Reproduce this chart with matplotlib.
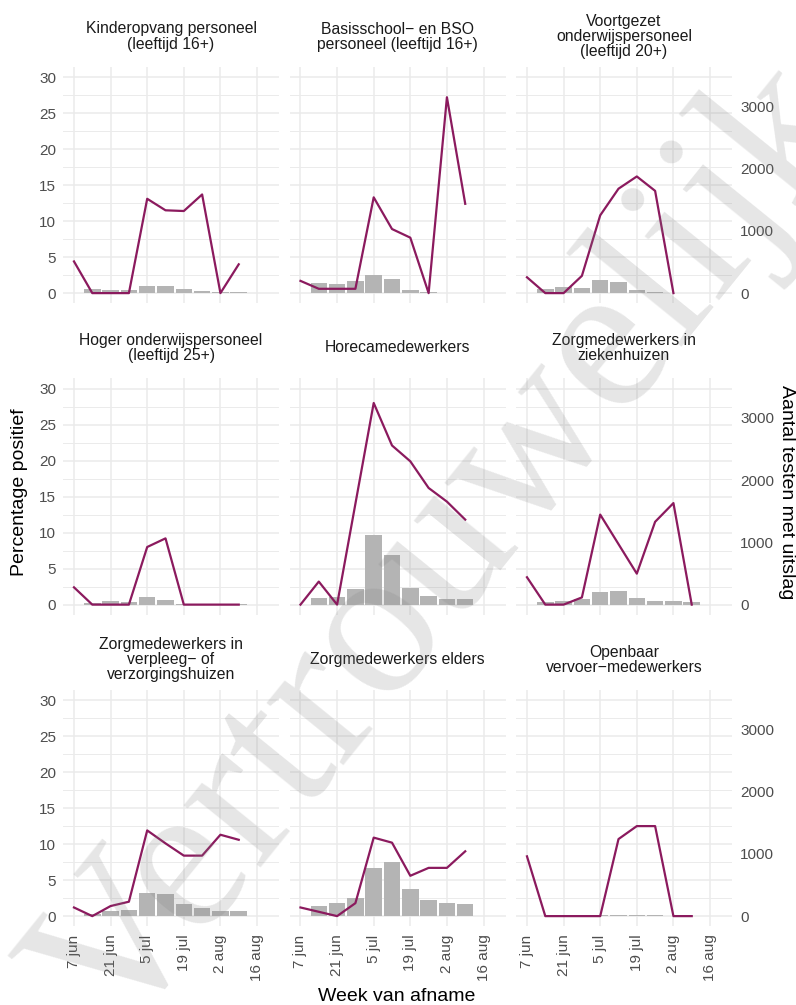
import numpy as np
import pandas as pd
import matplotlib
matplotlib.use('Agg')
import matplotlib.pyplot as plt
import matplotlib.dates as mdates

plt.rcParams['font.family'] = ['Liberation Sans', 'DejaVu Sans']

W, H = 796, 1005
LINE = '#8B1A5E'
BAR = '#B4B4B4'
GRID = '#EBEBEB'
TICK = '#4D4D4D'
K = 115.6  # tests per percentage point (secondary axis)

weeks = pd.to_datetime(['2020-06-07', '2020-06-14', '2020-06-21', '2020-06-28', '2020-07-05',
                        '2020-07-12', '2020-07-19', '2020-07-26', '2020-08-02', '2020-08-09'])

titles = [
    'Kinderopvang personeel\n(leeftijd 16+)',
    'Basisschool\u2212 en BSO\npersoneel (leeftijd 16+)',
    'Voortgezet\nonderwijspersoneel\n(leeftijd 20+)',
    'Hoger onderwijspersoneel\n(leeftijd 25+)',
    'Horecamedewerkers',
    'Zorgmedewerkers in\nziekenhuizen',
    'Zorgmedewerkers in\nverpleeg\u2212 of\nverzorgingshuizen',
    'Zorgmedewerkers elders',
    'Openbaar\nvervoer\u2212medewerkers',
]

# percentage positive per week
pct_kinder = [4.4, 0, 0, 0, 13.1, 11.5, 11.4, 13.7, 0, 4.0]
pct_basis = [1.7, 0.6, 0.6, 0.6, 13.3, 8.9, 7.7, 0, 27.2, 12.4]
pct_voortgezet = [2.2, 0, 0, 2.4, 10.8, 14.5, 16.2, 14.2, 0, np.nan]
pct_hoger = [2.4, 0, 0, 0, 8.0, 9.2, 0, 0, 0, 0]
pct_horeca = [0, 3.2, 0, 14.0, 28.0, 22.1, 19.9, 16.2, 14.3, 11.8]
pct_zkh = [3.8, 0, 0, 1.0, 12.5, 8.4, 4.3, 11.5, 14.1, 0]
pct_vvt = [1.2, 0, 1.4, 2.0, 11.9, 10.1, 8.4, 8.4, 11.3, 10.6]
pct_elders = [1.2, 0.6, 0, 1.8, 10.9, 10.2, 5.6, 6.7, 6.7, 9.0]
pct_ov = [8.3, 0, 0, 0, 0, 10.7, 12.5, 12.5, 0, 0]

# number of tests with result per week
n_kinder = [0, 59, 43, 43, 113, 113, 59, 32, 16, 16]
n_basis = [0, 167, 151, 188, 285, 221, 54, 11, 5, 5]
n_voortgezet = [0, 64, 96, 86, 214, 182, 43, 11, 5, 5]
n_hoger = [0, 32, 54, 43, 118, 80, 16, 10, 10, 10]
n_horeca = [0, 103, 130, 245, 1115, 793, 272, 136, 92, 87]
n_zkh = [0, 38, 54, 92, 206, 217, 114, 54, 54, 38]
n_vvt = [0, 32, 80, 102, 375, 353, 187, 123, 80, 80]
n_elders = [0, 161, 204, 284, 766, 862, 434, 257, 204, 188]
n_ov = [0, 3, 3, 3, 10, 12, 12, 10, 5, 3]

pcts = [pct_kinder, pct_basis, pct_voortgezet, pct_hoger, pct_horeca,
        pct_zkh, pct_vvt, pct_elders, pct_ov]
counts = [n_kinder, n_basis, n_voortgezet, n_hoger, n_horeca,
          n_zkh, n_vvt, n_elders, n_ov]

tick_dates = pd.to_datetime(['2020-06-07', '2020-06-21', '2020-07-05',
                             '2020-07-19', '2020-08-02', '2020-08-16'])
tick_labels = ['7 jun', '21 jun', '5 jul', '19 jul', '2 aug', '16 aug']

fig = plt.figure(figsize=(W / 100, H / 100), dpi=100)

x0 = mdates.date2num(weeks[0])
col_left = [63, 289.5, 516]
row_top = [67, 378.5, 690]
pw, ph = 216, 236.2

for i in range(9):
    r, c = divmod(i, 3)
    left, top = col_left[c], row_top[r]
    ax = fig.add_axes([left / W, 1 - (top + ph) / H, pw / W, ph / H])
    ax.set_facecolor('none')
    for s in ax.spines.values():
        s.set_visible(False)

    ax.bar(weeks, np.array(counts[i]) / K, width=6.3, color=BAR, zorder=2)
    ax.plot(weeks, pcts[i], color=LINE, lw=1.6, zorder=3)

    ax.set_xlim(x0 - 4.2, x0 + 78.4)
    ax.set_ylim(-1.4, 31.4)
    ax.set_yticks([0, 5, 10, 15, 20, 25, 30])
    ax.set_yticks(np.arange(2.5, 31, 5), minor=True)
    ax.set_xticks(tick_dates)
    ax.grid(True, which='major', color=GRID, lw=1.1, zorder=0)
    ax.grid(True, which='minor', axis='y', color=GRID, lw=0.7, zorder=0)
    ax.tick_params(which='both', length=0, colors=TICK, labelsize=11)
    ax.tick_params(axis='y', pad=5)
    ax.tick_params(axis='x', pad=6)

    if r == 2:
        ax.set_xticklabels(tick_labels, rotation=90)
    else:
        ax.set_xticklabels([])
    if c != 0:
        ax.set_yticklabels([])
    if c == 2:
        sec = ax.secondary_yaxis('right', functions=(lambda p: p * K, lambda n: n / K))
        sec.set_yticks([0, 1000, 2000, 3000])
        sec.tick_params(length=0, colors=TICK, labelsize=11, pad=6)
        sec.spines['right'].set_visible(False)

    # facet strip: text centred vertically in a strip of equal height per row
    ax.text(0.5, 1 + 30.5 / ph, titles[i], transform=ax.transAxes, ha='center', va='center',
            multialignment='center', fontsize=11.3, color='#1A1A1A', linespacing=1.0)

fig.text(20 / W, 1 - 492 / H, 'Percentage positief', rotation=90, ha='center', va='center',
         fontsize=14, color='black')
fig.text(787 / W, 1 - 492 / H, 'Aantal testen met uitslag', rotation=-90, ha='center',
         va='center', fontsize=14, color='black')
fig.text(397 / W, 1 - 996 / H, 'Week van afname', ha='center', va='center',
         fontsize=14, color='black')

# watermark
fig.text(447 / W, 1 - 552 / H, 'Vertrouwelijk', rotation=51, ha='center', va='center',
         rotation_mode='anchor', fontsize=155, family=['Liberation Serif', 'DejaVu Serif'],
         color='#808080', alpha=0.2, zorder=10)

fig.savefig('out.png', dpi=100)
